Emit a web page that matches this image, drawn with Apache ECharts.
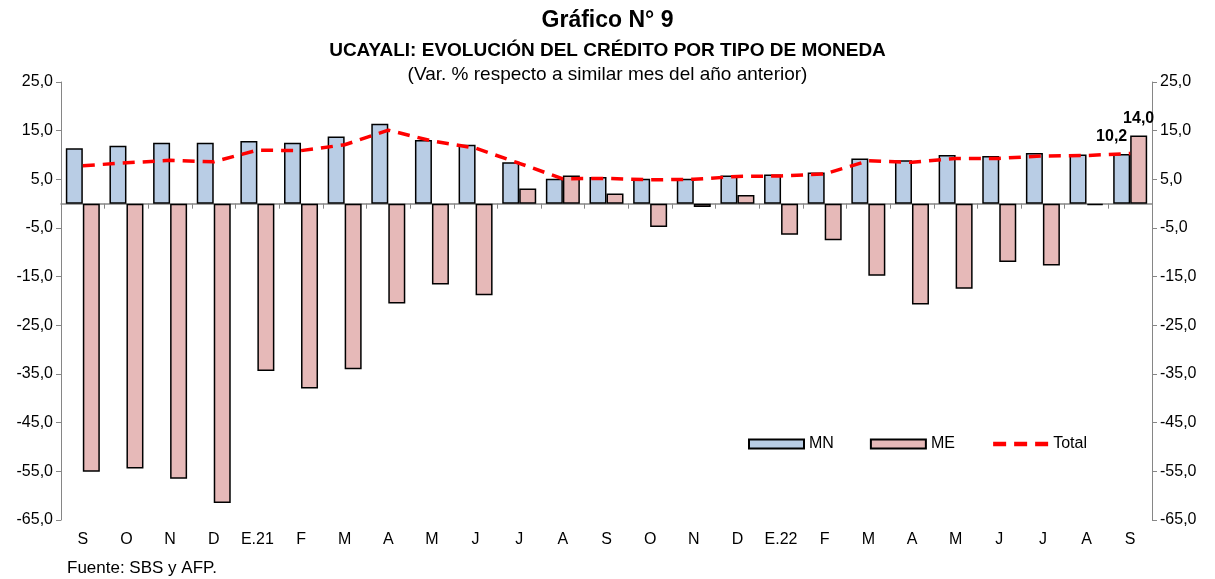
<!DOCTYPE html>
<html>
<head>
<meta charset="utf-8">
<script src="https://cdn.jsdelivr.net/npm/echarts@6/dist/echarts.min.js"></script>
<style>
  html, body { margin: 0; padding: 0; background: #fff; }
  #chart { width: 1215px; height: 579px; }
</style>
</head>
<body>
<div id="chart"></div>
<script>
let myChart = echarts.init(document.getElementById('chart'));

const months = ['S', 'O', 'N', 'D', 'E.21', 'F', 'M', 'A', 'M', 'J', 'J', 'A',
    'S', 'O', 'N', 'D', 'E.22', 'F', 'M', 'A', 'M', 'J', 'J', 'A', 'S'];
const mn = [11.4, 11.9, 12.5, 12.5, 12.9, 12.5, 13.8, 16.4, 13.1, 12.1, 8.5, 5.1,
    5.5, 5.1, 5.1, 5.8, 6.0, 6.4, 9.3, 8.9, 10.0, 9.8, 10.4, 10.1, 10.2];
const me = [-55.1, -54.4, -56.5, -61.5, -34.4, -38.0, -34.0, -20.5, -16.6, -18.8, 3.1, 5.8,
    2.1, -4.8, -0.7, 1.8, -6.4, -7.5, -14.8, -20.7, -17.5, -12.0, -12.7, -0.3, 14.0];
const total = [7.8, 8.4, 8.9, 8.6, 11.0, 10.9, 12.1, 15.1, 12.9, 11.4, 8.3, 5.1,
    5.2, 4.9, 5.0, 5.6, 5.7, 6.1, 8.8, 8.5, 9.3, 9.3, 9.8, 9.9, 10.3];

const fontName = 'Liberation Sans, Arial, sans-serif';
const fmt = v => v.toFixed(1).replace('.', ',');

// solo el último mes lleva etiqueta
let withLastLabel = function (arr, offset) {
    return arr.map((v, i) => i === arr.length - 1 ? {
        value: v,
        label: {
            show: true, position: 'top', offset: offset,
            formatter: p => fmt(p.value),
            fontFamily: fontName, fontWeight: 'bold', fontSize: 16, color: '#000'
        }
    } : v);
};

let yAxisBase = {
    type: 'value',
    min: -65,
    max: 25,
    interval: 10,
    axisLine: {show: true, lineStyle: {color: '#868686', width: 1}},
    axisTick: {show: true, length: 5, lineStyle: {color: '#868686'}},
    splitLine: {show: false},
    axisLabel: {
        formatter: v => fmt(v),
        fontFamily: fontName, fontSize: 16, color: '#000', margin: 8
    }
};

let option = {
    animation: false,
    backgroundColor: '#fff',
    title: [
        {
            text: 'Gráfico N° 9',
            left: 'center', top: 4,
            textStyle: {fontFamily: fontName, fontSize: 23, fontWeight: 'bold', color: '#000'}
        },
        {
            text: 'UCAYALI: EVOLUCIÓN DEL CRÉDITO POR TIPO DE MONEDA',
            left: 'center', top: 36,
            textStyle: {fontFamily: fontName, fontSize: 19, fontWeight: 'bold', color: '#000'}
        },
        {
            text: '(Var. % respecto a similar mes del año anterior)',
            left: 'center', top: 60,
            textStyle: {fontFamily: fontName, fontSize: 19, fontWeight: 'normal', color: '#000'}
        },
        {
            text: 'Fuente: SBS y AFP.',
            left: 62, top: 555,
            textStyle: {fontFamily: fontName, fontSize: 17, fontWeight: 'normal', color: '#000'}
        }
    ],
    legend: {
        left: 743, top: 431,
        itemWidth: 55, itemHeight: 9,
        itemGap: 36,
        textStyle: {fontFamily: fontName, fontSize: 16, color: '#000', padding: [0, 0, 0, 0]},
        data: [
            {name: 'MN', icon: 'rect'},
            {name: 'ME', icon: 'rect'},
            {
                name: 'Total',
                itemStyle: {opacity: 0},
                lineStyle: {width: 4.5, type: [13, 8]}
            }
        ]
    },
    grid: {left: 61, right: 63, top: 82, bottom: 59, containLabel: false},
    xAxis: [
        {
            type: 'category',
            data: months,
            position: 'bottom',
            axisLine: {show: false, onZero: false},
            axisTick: {show: false},
            axisLabel: {fontFamily: fontName, fontSize: 16, color: '#000', margin: 12}
        },
        {
            type: 'category',
            data: months,
            position: 'bottom',
            axisLine: {show: true, onZero: true, lineStyle: {color: '#868686', width: 1.5}},
            axisTick: {show: true, length: 5, lineStyle: {color: '#868686'}},
            axisLabel: {show: false}
        }
    ],
    yAxis: [
        Object.assign({}, yAxisBase, {position: 'left'}),
        Object.assign({}, yAxisBase, {position: 'right'})
    ],
    series: [
        {
            name: 'MN',
            type: 'bar',
            xAxisIndex: 0,
            barWidth: 17,
            barGap: '0%',
            itemStyle: {color: '#B9CDE5', borderColor: '#000', borderWidth: 1.5},
            data: withLastLabel(mn, [-10, -4])
        },
        {
            name: 'ME',
            type: 'bar',
            xAxisIndex: 0,
            barWidth: 17,
            barGap: '0%',
            itemStyle: {color: '#E6B9B8', borderColor: '#000', borderWidth: 1.5},
            data: withLastLabel(me, [0, -4])
        },
        {
            name: 'Total',
            type: 'line',
            xAxisIndex: 0,
            symbol: 'none',
            smooth: false,
            itemStyle: {color: '#FF0000'},
            lineStyle: {color: '#FF0000', width: 3.5, type: [12, 8]},
            data: total,
            z: 5
        }
    ]
};

myChart.setOption(option);
</script>
</body>
</html>
